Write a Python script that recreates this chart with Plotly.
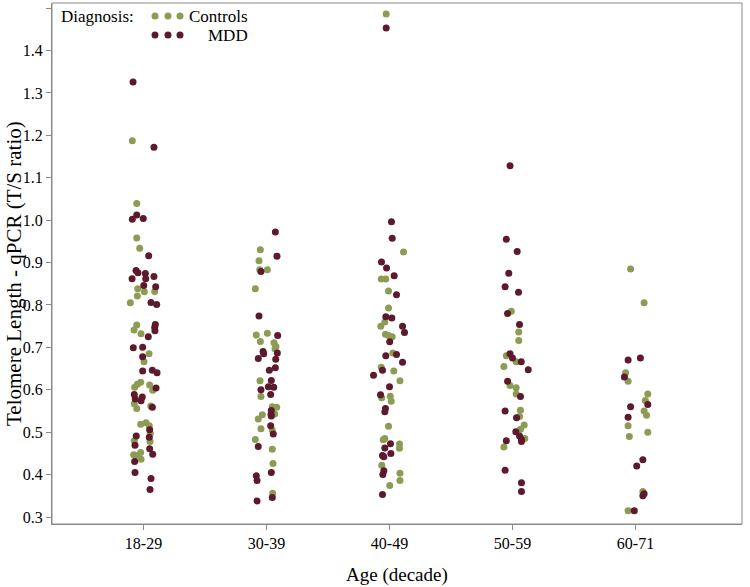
import plotly.graph_objects as go

age_groups = ["18-29", "30-39", "40-49", "50-59", "60-71"]
y_ticks = [0.3, 0.4, 0.5, 0.6, 0.7, 0.8, 0.9, 1.0, 1.1, 1.2, 1.3, 1.4, 1.5]

# ---- Controls: telomere length (T/S) and horizontal jitter (in category units) per age group
ctrl_vals = [
    [1.187, 1.039, 0.958, 0.934, 0.838, 0.831, 0.832, 0.821, 0.805, 0.753, 0.741, 0.732, 0.685, 0.666,
     0.618, 0.613, 0.606, 0.611, 0.599, 0.567, 0.556, 0.562, 0.519, 0.522, 0.515, 0.497, 0.480, 0.478,
     0.452, 0.447, 0.445, 0.436],
    [0.930, 0.904, 0.883, 0.883, 0.838, 0.729, 0.733, 0.714, 0.711, 0.702, 0.697, 0.621, 0.584, 0.560,
     0.559, 0.543, 0.541, 0.531, 0.508, 0.505, 0.483, 0.460, 0.426, 0.356],
    [1.486, 0.861, 0.861, 0.833, 0.793, 0.760, 0.750, 0.731, 0.728, 0.725, 0.687, 0.653, 0.644, 0.621,
     0.581, 0.585, 0.573, 0.514, 0.482, 0.485, 0.472, 0.462, 0.422, 0.403, 0.386, 0.374, 0.925],
    [0.736, 0.716, 0.666, 0.605, 0.590, 0.552, 0.537, 0.517, 0.507, 0.485, 0.785, 0.680, 0.655, 0.610,
     0.465],
    [0.885, 0.805, 0.640, 0.620, 0.590, 0.575, 0.550, 0.540, 0.515, 0.500, 0.490, 0.360, 0.315],
]
ctrl_jit = [
    [-0.091, -0.055, -0.055, -0.031, -0.047, 0.007, 0.091, -0.050, -0.107, -0.055, -0.077, -0.020, 0.045,
     0.004, -0.023, -0.050, -0.072, 0.050, 0.075, -0.075, -0.055, 0.059, -0.023, 0.020, 0.047, 0.055,
     -0.075, 0.053, -0.023, -0.080, -0.061, -0.020],
    [-0.050, -0.061, -0.055, 0.007, -0.091, -0.083, 0.007, -0.050, 0.061, 0.077, 0.069, -0.053, -0.045,
     0.047, 0.083, 0.067, -0.034, -0.067, -0.045, 0.047, -0.091, 0.047, 0.053, 0.050],
    [-0.027, -0.067, -0.030, -0.008, -0.008, -0.038, -0.071, -0.033, -0.008, 0.022, 0.027, -0.067, 0.035,
     0.085, -0.063, 0.006, 0.014, -0.008, -0.051, -0.038, 0.081, 0.081, -0.063, 0.085, 0.085, 0.002, 0.114],
    [0.051, 0.051, 0.030, 0.030, 0.030, 0.065, 0.057, 0.095, 0.065, 0.100, -0.010, -0.050, -0.070, -0.020,
     -0.070],
    [-0.040, 0.070, -0.080, -0.060, 0.100, 0.080, 0.070, 0.090, -0.060, 0.100, -0.050, 0.060, -0.060],
]

# ---- MDD
mdd_vals = [
    [1.326, 1.172, 1.012, 1.002, 1.004, 0.916, 0.881, 0.876, 0.874, 0.862, 0.862, 0.867, 0.846, 0.843,
     0.806, 0.801, 0.754, 0.747, 0.739, 0.725, 0.699, 0.700, 0.678, 0.644, 0.646, 0.640, 0.604, 0.589,
     0.578, 0.583, 0.574, 0.559, 0.506, 0.491, 0.488, 0.469, 0.461, 0.448, 0.431, 0.405, 0.391, 0.365],
    [0.972, 0.915, 0.879, 0.774, 0.728, 0.690, 0.685, 0.687, 0.674, 0.672, 0.652, 0.646, 0.622, 0.607,
     0.606, 0.600, 0.589, 0.551, 0.542, 0.538, 0.515, 0.496, 0.466, 0.405, 0.397, 0.386, 0.346, 0.338],
    [1.453, 0.996, 0.957, 0.901, 0.887, 0.869, 0.824, 0.772, 0.769, 0.713, 0.680, 0.683, 0.646, 0.634,
     0.607, 0.588, 0.556, 0.548, 0.463, 0.473, 0.445, 0.442, 0.450, 0.409, 0.400, 0.353, 0.750, 0.735,
     0.665],
    [0.926, 0.830, 0.754, 0.666, 0.647, 0.584, 0.534, 0.501, 0.491, 0.483, 0.478, 0.381, 0.360, 1.128,
     0.955, 0.875, 0.843, 0.780, 0.685, 0.675, 0.620, 0.550, 0.480, 0.410],
    [0.675, 0.670, 0.630, 0.565, 0.560, 0.535, 0.435, 0.420, 0.355, 0.350, 0.315],
]
mdd_jit = [
    [-0.085, 0.085, -0.055, -0.091, -0.002, 0.042, -0.061, -0.045, 0.015, -0.093, 0.018, 0.085, 0.002,
     0.099, 0.061, 0.107, 0.096, 0.091, 0.093, 0.039, -0.083, -0.007, -0.007, -0.007, 0.072, 0.110, 0.102,
     -0.075, -0.067, -0.010, -0.020, 0.072, 0.050, -0.059, 0.047, -0.069, 0.050, 0.075, -0.072, -0.069,
     0.061, 0.053],
    [0.072, 0.085, -0.045, -0.061, 0.091, -0.028, -0.023, 0.088, -0.067, 0.075, 0.072, 0.023, 0.039,
     0.015, 0.059, -0.045, 0.034, 0.039, 0.037, 0.039, 0.034, 0.055, -0.067, 0.039, -0.083, -0.077, 0.047,
     -0.077],
    [-0.027, 0.016, 0.022, -0.065, -0.024, 0.038, 0.057, -0.030, 0.019, 0.002, -0.030, 0.057, -0.057,
     -0.130, 0.000, -0.073, -0.033, -0.038, -0.038, 0.008, -0.057, -0.046, 0.011, -0.046, -0.054, -0.057,
     0.106, 0.122, 0.106],
    [0.038, 0.049, 0.057, 0.071, 0.128, 0.065, 0.033, 0.027, 0.057, 0.073, 0.073, 0.073, 0.073, -0.020,
     -0.050, -0.030, -0.060, -0.040, -0.020, 0.000, -0.040, -0.060, -0.050, -0.060],
    [0.040, -0.060, -0.090, 0.100, -0.040, -0.060, 0.060, 0.010, 0.070, 0.060, -0.010],
]

CTRL_COLOR = "#8c9c54"
MDD_COLOR = "#5c1a2c"
FONT = "Liberation Serif"
AX_COLOR = "#8a8a8a"


def flatten(vals, jit):
    xs, ys = [], []
    for gi, (vs, js) in enumerate(zip(vals, jit)):
        for v, j in zip(vs, js):
            xs.append(gi + 1 + j)
            ys.append(v)
    return xs, ys


fig = go.Figure()
cx, cy = flatten(ctrl_vals, ctrl_jit)
mx, my = flatten(mdd_vals, mdd_jit)
fig.add_trace(go.Scatter(x=cx, y=cy, mode="markers", name="Controls",
                         marker=dict(color=CTRL_COLOR, size=7, line=dict(width=0))))
fig.add_trace(go.Scatter(x=mx, y=my, mode="markers", name="MDD",
                         marker=dict(color=MDD_COLOR, size=7, line=dict(width=0))))

axis_common = dict(showgrid=False, zeroline=False, showline=True, linecolor=AX_COLOR, linewidth=1,
                   ticks="outside", ticklen=5, tickcolor=AX_COLOR, mirror=False, automargin=False,
                   tickfont=dict(family=FONT, size=16, color="black"))

ML, MR, MT, MB = 52, 8, 3, 63
plot_w, plot_h = 750 - ML - MR, 587 - MT - MB

fig.update_layout(
    template="none",
    width=750, height=587,
    margin=dict(l=ML, r=MR, t=MT, b=MB, autoexpand=False),
    paper_bgcolor="white", plot_bgcolor="white",
    showlegend=False,
    font=dict(family=FONT, color="black"),
    xaxis=dict(range=[0.256, 5.866], tickmode="array", tickvals=[1, 2, 3, 4, 5], ticktext=age_groups,
               **axis_common),
    yaxis=dict(range=[0.2835, 1.512], tickmode="array", tickvals=y_ticks,
               ticktext=[f"{t:.1f}" for t in y_ticks], **axis_common),
)

# axis titles
fig.add_annotation(xref="paper", yref="paper", x=0.5, y=-(575 - (587 - MB)) / plot_h,
                   text="Age (decade)", showarrow=False, xanchor="center", yanchor="middle",
                   font=dict(family=FONT, size=19, color="black"))
fig.add_annotation(xref="paper", yref="paper", x=-(ML - 14) / plot_w, y=1 - (274 - MT) / plot_h,
                   text="Telomere Length - qPCR (T/S ratio)", showarrow=False, textangle=-90,
                   xanchor="center", yanchor="middle",
                   font=dict(family=FONT, size=21, color="black"))

# plot frame (top and right sides)
fig.add_shape(type="rect", xref="paper", yref="paper", x0=0, y0=0, x1=1, y1=1,
              line=dict(color=AX_COLOR, width=1), layer="below")

# legend drawn inside the plot, top-left
leg_rows = [("Controls", CTRL_COLOR, 16), ("MDD", MDD_COLOR, 35)]
fig.add_annotation(xref="paper", yref="paper", x=(59 - ML) / plot_w, y=1 - (16 - MT) / plot_h,
                   text="Diagnosis:", showarrow=False, xanchor="left", yanchor="middle",
                   font=dict(family=FONT, size=17, color="black"))
for label, col, ypx in leg_rows:
    yp = 1 - (ypx - MT) / plot_h
    for dx in (155, 168, 180):
        xp = (dx - ML) / plot_w
        fig.add_shape(type="circle", xref="paper", yref="paper", xsizemode="pixel", ysizemode="pixel",
                      xanchor=xp, yanchor=yp, x0=-3.5, x1=3.5, y0=-3.5, y1=3.5,
                      fillcolor=col, line=dict(width=0))
    fig.add_annotation(xref="paper", yref="paper", x=(250 - ML) / plot_w, y=yp, text=label,
                       showarrow=False, xanchor="right", yanchor="middle",
                       font=dict(family=FONT, size=17, color="black"))

fig.write_html("out.html", config={"displayModeBar": False},
               post_script="document.body.style.margin='0';document.body.style.overflow='hidden';")
